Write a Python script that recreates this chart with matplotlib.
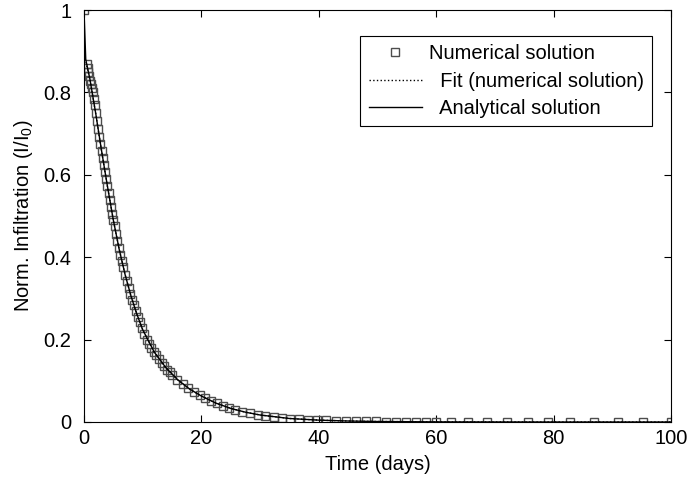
import matplotlib

matplotlib.use("Agg")
import matplotlib.pyplot as plt
from matplotlib.ticker import FuncFormatter

plt.rcParams.update(
    {
        "font.family": ["Liberation Sans", "DejaVu Sans"],
        "mathtext.fontset": "custom",
        "mathtext.rm": "Liberation Sans",
        "mathtext.it": "Liberation Sans",
        "font.size": 14.5,
        "axes.linewidth": 0.8,
    }
)

# numerical solution (square markers)
t_num = [
    0.0, 0.45, 0.6, 0.75, 0.9, 1.05, 1.2, 1.35, 1.5, 1.65, 1.8,
    2.0, 2.2, 2.4, 2.6, 2.8, 3.0, 3.2, 3.4, 3.6, 3.8, 4.0, 4.2, 4.4, 4.6,
    4.8, 5.0, 5.2, 5.45, 5.7, 5.95, 6.2, 6.45, 6.7, 7.0, 7.3, 7.6, 7.9,
    8.2, 8.5, 8.8, 9.15, 9.5, 9.9, 10.3, 10.7, 11.1, 11.5, 11.9, 12.35,
    12.8, 13.25, 13.7, 14.2, 14.6, 15.0, 15.9, 16.9, 17.8, 18.7, 19.7,
    20.6, 21.6, 22.6, 23.6, 24.7, 25.8, 27.0, 28.3, 29.6, 30.9, 32.3,
    33.7, 35.1, 36.6, 38.1, 39.7, 41.3, 43.0, 44.7, 46.4, 48.1, 49.8,
    51.5, 53.2, 54.9, 56.5, 58.2, 59.9, 62.5, 65.5, 68.7, 72.0, 75.6,
    79.1, 82.8, 86.8, 91.0, 95.3, 100.0,
]
i_num = [
    1.0, 0.870, 0.860, 0.850, 0.839, 0.829, 0.820, 0.810, 0.800, 0.784, 0.769,
    0.749, 0.730, 0.711, 0.693, 0.675, 0.658, 0.641, 0.624, 0.608, 0.590,
    0.572, 0.555, 0.538, 0.521, 0.506, 0.490, 0.475, 0.457, 0.439, 0.422,
    0.406, 0.391, 0.376, 0.358, 0.342, 0.326, 0.311, 0.297, 0.283, 0.270,
    0.256, 0.242, 0.227, 0.214, 0.200, 0.190, 0.180, 0.171, 0.162, 0.153,
    0.144, 0.136, 0.127, 0.121, 0.115, 0.103, 0.0915, 0.0822, 0.0738,
    0.0654, 0.0585, 0.0514, 0.0451, 0.0396, 0.0344, 0.0297, 0.0254,
    0.0214, 0.0180, 0.0150, 0.0123, 0.0102, 0.0084, 0.0069, 0.0057,
    0.0047, 0.0038, 0.0030, 0.0024, 0.0020, 0.0016, 0.0013, 0.0010,
    0.0008, 0.0007, 0.0005, 0.0004, 0.0003, 0.0002, 0.0001, 0.0001,
    0.0, 0.0, 0.0, 0.0, 0.0, 0.0, 0.0, 0.0,
]

# analytical solution (solid line)
t_ana = [
    0.0, 0.3, 1.0, 2.0, 3.0, 4.0, 5.0, 6.0, 7.0, 8.0, 9.0, 10.0, 12.0,
    14.0, 16.0, 18.0, 20.0, 22.5, 25.0, 27.5, 30.0, 35.0, 40.0, 45.0,
    50.0, 60.0, 70.0, 80.0, 90.0, 100.0,
]
i_ana = [
    1.0, 0.88, 0.833, 0.749, 0.658, 0.572, 0.490, 0.419, 0.358, 0.306,
    0.262, 0.224, 0.169, 0.131, 0.102, 0.080, 0.063, 0.0457, 0.033,
    0.0238, 0.017, 0.0085, 0.0045, 0.0024, 0.0012, 0.0003, 0.0001,
    0.0, 0.0, 0.0,
]

# fit of the numerical solution (dotted, lies under the analytical curve)
t_fit = t_ana
i_fit = [
    0.90, 0.875, 0.832, 0.748, 0.657, 0.571, 0.490, 0.419, 0.358, 0.306,
    0.262, 0.224, 0.169, 0.131, 0.102, 0.080, 0.063, 0.0457, 0.033,
    0.0238, 0.017, 0.0085, 0.0045, 0.0024, 0.0012, 0.0003, 0.0001,
    0.0, 0.0, 0.0,
]

fig = plt.figure(figsize=(6.89, 4.79), dpi=100)
ax = fig.add_axes([0.1219, 0.119, 0.852, 0.860])

ax.plot(t_num, i_num, linestyle="none", marker="s", markersize=6,
        markerfacecolor="none", markeredgecolor="0.3", markeredgewidth=1.0,
        label="Numerical solution")
ax.plot(t_fit, i_fit, linestyle=":", color="black", linewidth=1.0,
        label="  Fit (numerical solution)")
ax.plot(t_ana, i_ana, linestyle="-", color="black", linewidth=1.0,
        label="  Analytical solution")

ax.set_xlim(0, 100)
ax.set_ylim(0, 1)
ax.set_xticks([0, 20, 40, 60, 80, 100])
ax.set_yticks([0, 0.2, 0.4, 0.6, 0.8, 1.0])
ax.yaxis.set_major_formatter(FuncFormatter(lambda v, p: f"{v:g}"))
ax.tick_params(direction="in", length=5, width=0.8, top=True, right=True)
ax.tick_params(axis="y", pad=9)
ax.tick_params(axis="x", pad=5)

ax.set_xlabel("Time (days)", labelpad=5)
ax.set_ylabel(r"Norm. Infiltration (I/I$_0$)", labelpad=6)

leg = ax.legend(loc="upper right", bbox_to_anchor=(0.968, 0.937),
                borderaxespad=0, fancybox=False, framealpha=1,
                edgecolor="black", handlelength=2.64, handletextpad=0.35,
                labelspacing=0.41, borderpad=0.42)
leg.get_frame().set_linewidth(0.8)

fig.savefig("out.png", dpi=100)
